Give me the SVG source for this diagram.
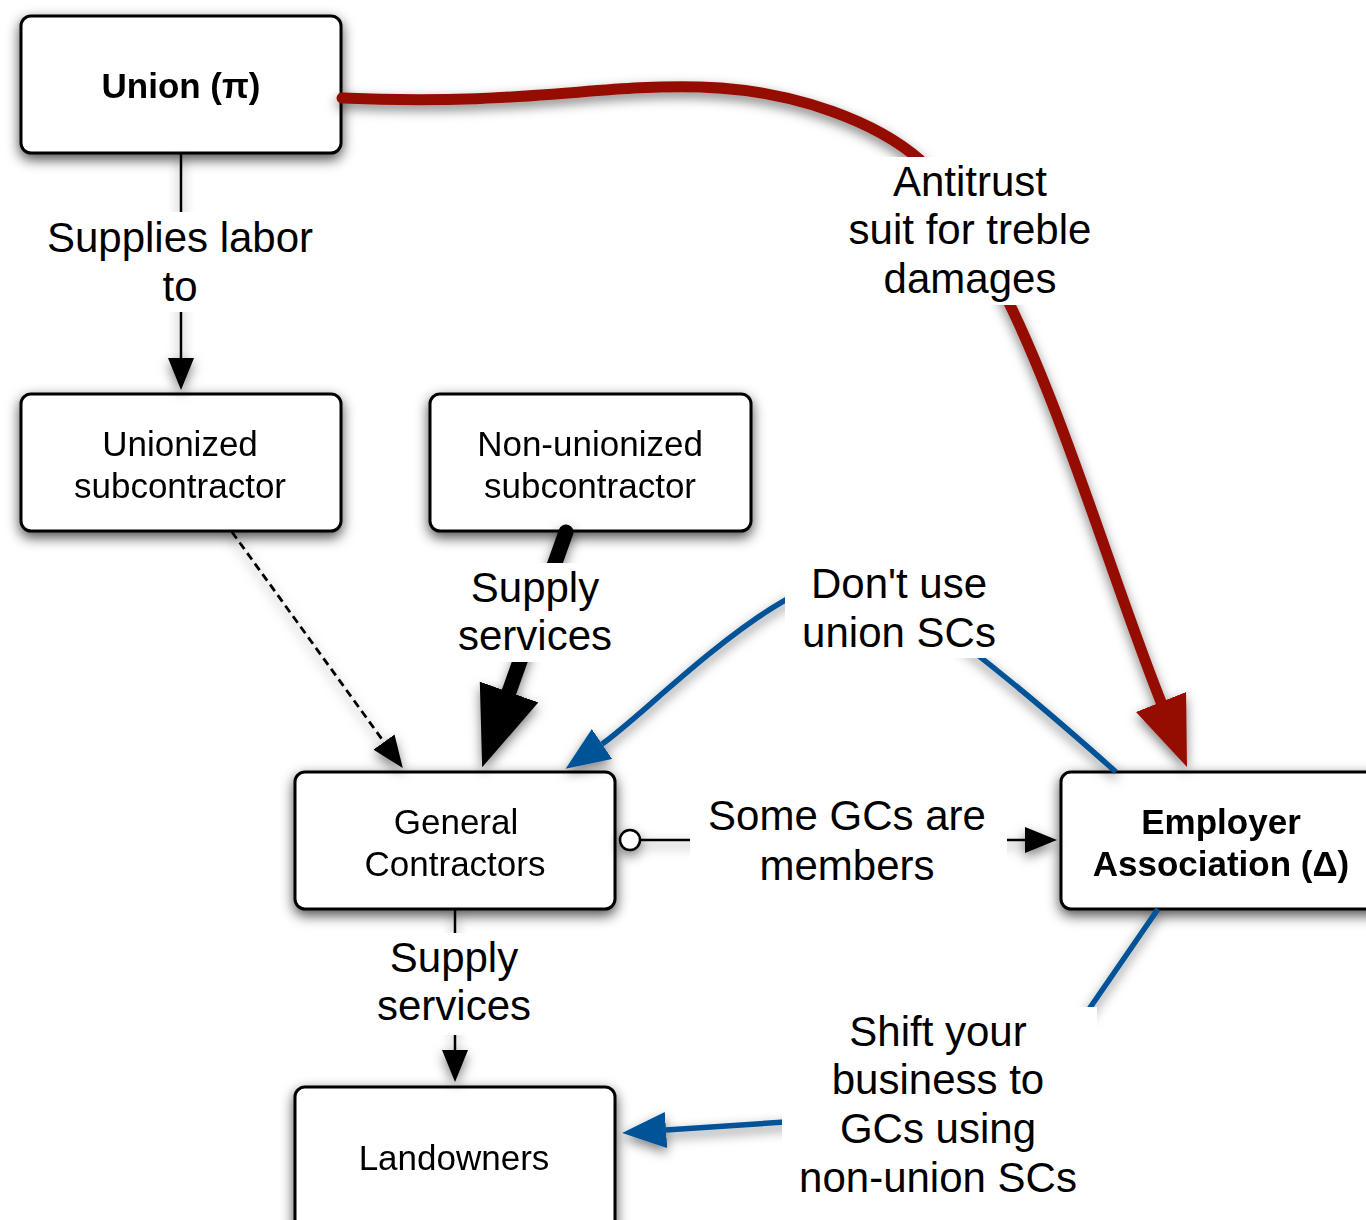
<svg xmlns="http://www.w3.org/2000/svg" width="1366" height="1220" viewBox="0 0 1366 1220">
  <style>
    .box { fill: #ffffff; stroke: #000000; stroke-width: 3; }
    .ntext { font-family: "Liberation Sans", Arial, sans-serif; font-size: 35px; fill: #000; text-anchor: middle; }
    .bold { font-weight: bold; }
    .ltext { font-family: "Liberation Sans", Arial, sans-serif; font-size: 42px; fill: #000; text-anchor: middle; }
    .lbg { fill: #ffffff; stroke: none; }
    .thin { fill: none; stroke: #000; stroke-width: 2.5; }
    .dash { fill: none; stroke: #000; stroke-width: 2.8; stroke-dasharray: 8 5; }
    .blue { fill: none; stroke: #005397; stroke-width: 5.5; stroke-linejoin: round; }
    .red { fill: none; stroke: #941100; stroke-width: 11; stroke-linecap: round; stroke-linejoin: round; }
    .heavy { fill: none; stroke: #000; stroke-width: 15; stroke-linecap: round; }
  </style>
  <defs>
    <filter id="nodeShadow" x="-20%" y="-30%" width="140%" height="175%">
      <feDropShadow dx="0" dy="5" stdDeviation="6.5" flood-color="#000" flood-opacity="0.7"/>
    </filter>
    <filter id="edgeShadow" filterUnits="userSpaceOnUse" x="0" y="0" width="1366" height="1220">
      <feDropShadow dx="0" dy="5" stdDeviation="6" flood-color="#000" flood-opacity="0.5"/>
    </filter>
    <marker id="arrowSmall" viewBox="0 0 32 26" refX="0" refY="13" markerWidth="32" markerHeight="26" markerUnits="userSpaceOnUse" orient="auto">
      <path d="M0,0 L32,13 L0,26 z" fill="#000"/>
    </marker>
    <marker id="arrowBlue" viewBox="0 0 44 36" refX="0" refY="18" markerWidth="44" markerHeight="36" markerUnits="userSpaceOnUse" orient="auto">
      <path d="M0,0 L44,18 L0,36 z" fill="#005397"/>
    </marker>
    <marker id="arrowRed" viewBox="0 0 70 54" refX="0" refY="27" markerWidth="70" markerHeight="54" markerUnits="userSpaceOnUse" orient="auto">
      <path d="M0,0 L70,27 L0,54 z" fill="#941100"/>
    </marker>
    <marker id="arrowHeavy" viewBox="0 0 80 62" refX="0" refY="31" markerWidth="80" markerHeight="62" markerUnits="userSpaceOnUse" orient="auto">
      <path d="M0,0 L80,31 L0,62 z" fill="#000"/>
    </marker>
  </defs>

  <rect x="0" y="0" width="1366" height="1220" fill="#ffffff"/>

  <!-- nodes -->
  <g id="union" filter="url(#nodeShadow)">
    <rect class="box" x="21" y="16" width="320" height="137" rx="10"/>
    <text class="ntext bold" x="181" y="98">Union (π)</text>
  </g>
  <g id="unionized-sc" filter="url(#nodeShadow)">
    <rect class="box" x="21" y="394" width="320" height="137" rx="10"/>
    <text class="ntext" x="180" y="456">Unionized</text>
    <text class="ntext" x="180" y="498">subcontractor</text>
  </g>
  <g id="nonunion-sc" filter="url(#nodeShadow)">
    <rect class="box" x="430" y="394" width="321" height="137" rx="10"/>
    <text class="ntext" x="590" y="456">Non-unionized</text>
    <text class="ntext" x="590" y="498">subcontractor</text>
  </g>
  <g id="general-contractors" filter="url(#nodeShadow)">
    <rect class="box" x="295" y="772" width="320" height="137" rx="10"/>
    <text class="ntext" x="456" y="834">General</text>
    <text class="ntext" x="455" y="876">Contractors</text>
  </g>
  <g id="employer-association" filter="url(#nodeShadow)">
    <rect class="box" x="1061" y="772" width="330" height="137" rx="10"/>
    <text class="ntext bold" x="1221" y="834">Employer</text>
    <text class="ntext bold" x="1221" y="876">Association (Δ)</text>
  </g>
  <g id="landowners" filter="url(#nodeShadow)">
    <rect class="box" x="295" y="1087" width="320" height="150" rx="10"/>
    <text class="ntext" x="454" y="1170">Landowners</text>
  </g>

  <!-- connectors -->
  <g id="connectors" filter="url(#edgeShadow)">
    <path class="thin" d="M181,153 L181,358" marker-end="url(#arrowSmall)"/>
    <path class="dash" d="M232,532 L384,742" marker-end="url(#arrowSmall)"/>
    <path class="heavy" d="M566,532 L509,692" marker-end="url(#arrowHeavy)"/>
    <path class="blue" d="M1116,772 C1060,722 960,635 880,585 C810,540 652,710 602,744" marker-end="url(#arrowBlue)"/>
    <path class="thin" d="M641,840 L1025,840" marker-end="url(#arrowSmall)"/>
    <circle cx="630" cy="840" r="10" fill="#ffffff" stroke="#000" stroke-width="2.5"/>
    <path class="thin" d="M455,909 L455,1050" marker-end="url(#arrowSmall)"/>
    <path class="blue" d="M1158,909 L1085,1015 Q1000,1125 800,1121 L666,1130" marker-end="url(#arrowBlue)"/>
    <path class="red" d="M342,98 C520,106 600,84 700,87 C800,90 880,125 920,160 L1000,285 C1060,400 1113,582 1161,702" marker-end="url(#arrowRed)"/>
  </g>

  <!-- connector labels -->
  <g id="labels">
    <rect class="lbg" x="40" y="212" width="280" height="100"/>
    <text class="ltext" x="180" y="252">Supplies labor</text>
    <text class="ltext" x="180" y="301">to</text>

    <rect class="lbg" x="455" y="563" width="162" height="99"/>
    <text class="ltext" x="535" y="602">Supply</text>
    <text class="ltext" x="535" y="650">services</text>

    <rect class="lbg" x="845" y="157" width="250" height="148"/>
    <text class="ltext" x="970" y="196">Antitrust</text>
    <text class="ltext" x="970" y="244">suit for treble</text>
    <text class="ltext" x="970" y="293">damages</text>

    <rect class="lbg" x="785" y="556" width="215" height="102"/>
    <text class="ltext" x="899" y="598">Don't use</text>
    <text class="ltext" x="899" y="647">union SCs</text>

    <rect class="lbg" x="690" y="790" width="317" height="105"/>
    <text class="ltext" x="847" y="830">Some GCs are</text>
    <text class="ltext" x="847" y="880">members</text>

    <rect class="lbg" x="358" y="933" width="194" height="102"/>
    <text class="ltext" x="454" y="972">Supply</text>
    <text class="ltext" x="454" y="1020">services</text>

    <rect class="lbg" x="782" y="1007" width="315" height="193"/>
    <text class="ltext" x="938" y="1046">Shift your</text>
    <text class="ltext" x="938" y="1094">business to</text>
    <text class="ltext" x="938" y="1143">GCs using</text>
    <text class="ltext" x="938" y="1192">non-union SCs</text>
  </g>
</svg>
